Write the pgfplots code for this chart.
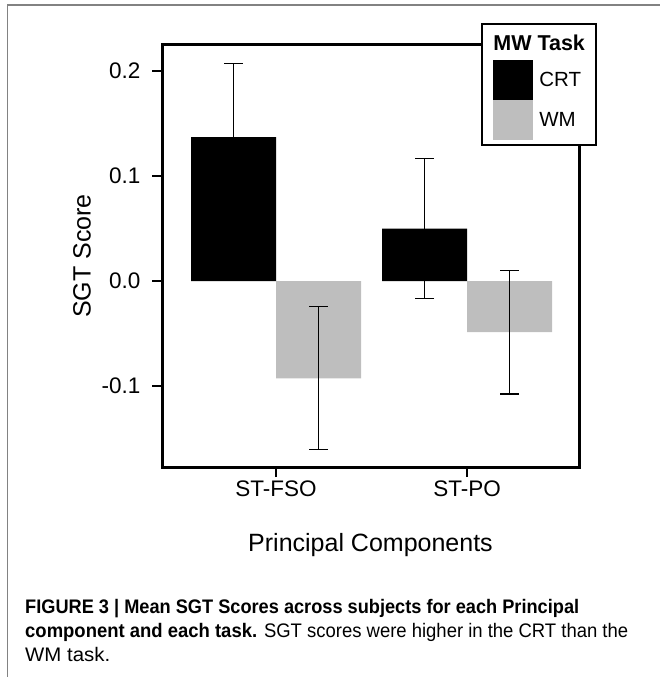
\documentclass[border=0pt]{standalone}
\usepackage{fontspec}
\setmainfont{Liberation Sans}
\usepackage{graphicx}
\usepackage{pgfplots}
\pgfplotsset{compat=1.18}
\definecolor{wmgray}{RGB}{190,190,190}
\definecolor{errgray}{RGB}{0,0,0}
\definecolor{framegray}{RGB}{130,130,130}
\newsavebox\capA \newsavebox\capB \newsavebox\capC
\newcommand\capsize{\fontsize{19.6pt}{24pt}\selectfont}
\begin{document}
\sbox\capA{\capsize\bfseries FIGURE 3 | Mean SGT Scores across subjects for each Principal}%
\sbox\capB{\capsize\textbf{component and each task.} SGT scores were higher in the CRT than the}%
\sbox\capC{\capsize WM task.}%
\pgfmathsetmacro\rA{554/\the\wd\capA}%
\pgfmathsetmacro\rB{603/\the\wd\capB}%
\pgfmathsetmacro\rC{85/\the\wd\capC}%
\begin{tikzpicture}
\useasboundingbox (0,0) rectangle (660pt,-677pt);
\draw[framegray, line width=1.5pt] (7.5pt,-677pt) -- (7.5pt,-5pt) -- (660pt,-5pt);
\begin{axis}[
  at={(162pt,-467pt)}, anchor=south west,
  scale only axis, width=417pt, height=422pt,
  ybar=0pt, bar width=85pt,
  xmin=-0.597, xmax=1.586, ymin=-0.1771, ymax=0.2248,
  xtick={0,1}, xticklabels={ST-FSO,ST-PO},
  ytick={-0.1,0,0.1,0.2}, yticklabels={-0.1,0.0,0.1,0.2},
  tick pos=left, tick align=outside, major tick length=10pt,
  every tick/.style={black, line width=1.5pt},
  axis line style={line width=3pt},
  tick label style={font=\fontsize{22.5pt}{27pt}\selectfont},
  yticklabel style={xshift=-8pt},
  xlabel={Principal Components}, ylabel={SGT Score},
  every axis y label/.style={at={(axis description cs:-0.192,0.5)}, rotate=90, anchor=center,
    font=\fontsize{25pt}{30pt}\selectfont},
  every axis x label/.style={at={(axis description cs:0.5,-0.2014)}, anchor=base,
    font=\fontsize{25pt}{30pt}\selectfont},
  legend cell align=left,
  legend style={at={(1.043,1.052)}, anchor=north east, draw=black, line width=2pt,
    fill=white, inner xsep=11pt, inner ysep=5pt, row sep=0pt, column sep=6pt,
    font=\fontsize{20.5pt}{24pt}\selectfont, nodes={inner sep=0pt}},
]
\addlegendimage{legend image code/.code={\path[draw=none, fill=none] (0pt,-17pt) rectangle (40pt,14pt);}}
\addlegendentry{\hspace*{-46pt}\fontsize{21.5pt}{24pt}\selectfont\bfseries MW Task}
\addplot[fill=black, draw=none,
  legend image code/.code={\path[draw=none, fill=black] (0pt,-20pt) rectangle (40pt,20pt);},
  error bars/.cd, y dir=both, y explicit,
  error bar style={line width=1.2pt, errgray},
  error mark options={rotate=90, mark size=9.5pt, line width=1.2pt, errgray}]
  coordinates {(0,0.137) +- (0,0.070) (1,0.050) +- (0,0.067)};
\addlegendentry{CRT}
\addplot[fill=wmgray, draw=none,
  legend image code/.code={\path[draw=none, fill=wmgray] (0pt,-20pt) rectangle (40pt,20pt);},
  error bars/.cd, y dir=both, y explicit,
  error bar style={line width=1.2pt, errgray},
  error mark options={rotate=90, mark size=9.5pt, line width=1.2pt, errgray}]
  coordinates {(0,-0.0926) +- (0,0.068) (1,-0.0486) +- (0,0.059)};
\addlegendentry{WM}
\end{axis}
\node[anchor=base west, inner sep=0pt] at (25pt,-613pt) {\scalebox{\rA}[1]{\usebox\capA}};
\node[anchor=base west, inner sep=0pt] at (25pt,-637pt) {\scalebox{\rB}[1]{\usebox\capB}};
\node[anchor=base west, inner sep=0pt] at (25pt,-661pt) {\scalebox{\rC}[1]{\usebox\capC}};
\end{tikzpicture}
\end{document}
